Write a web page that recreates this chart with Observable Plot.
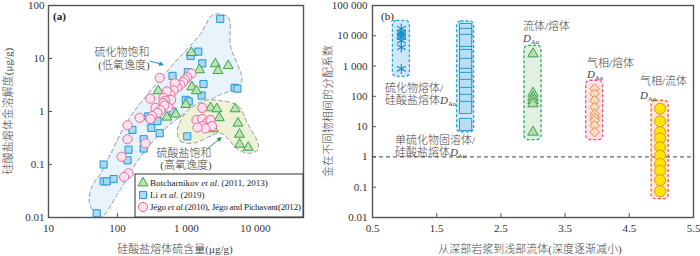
<!DOCTYPE html>
<html><head><meta charset="utf-8">
<script src="https://cdn.jsdelivr.net/npm/d3@7"></script>
<script src="https://cdn.jsdelivr.net/npm/@observablehq/plot@0.6"></script>
<style>
body{margin:0;background:#fff;}
#wrap{display:flex;width:700px;height:256px;overflow:hidden;}
</style></head><body><div id="wrap"></div>
<script>
const FONT = '"Liberation Serif","Noto Sans CJK SC",serif';

// ---------- Panel (a) data ----------
const xTicksA = [10, 100, 1000, 10000];
const xTickLabelsA = ["10", "100", "1 000", "10 000"];
const yTicksA = [0.01, 0.1, 1, 10, 100];
const yTickLabelsA = ["0.01", "0.1", "1", "10", "100"];

const liS  = [3100,1490,1150,1700,630,1050,1770,5000,5500,980,1080,1660,630,280,380,310,410,165,240,240,145,140,63,63,70,88,50,1030];
const liAu = [56,13.5,11.2,8.1,4.7,5.5,3.3,2.8,2.7,1.66,1.55,2.0,1.0,0.81,0.66,0.49,0.39,0.45,0.30,0.20,0.19,0.12,0.10,0.048,0.048,0.053,0.012,0.34];
const botS  = [1180,2630,4050,2870,1550,1200,1400,980,390,520,700,2240,2770,5100,3000,5600,5900,5900,7900,2460];
const botAu = [12.9,7.9,7.3,5.9,6.1,2.9,2.45,1.35,2.45,0.78,0.89,1.17,1.12,1.12,0.76,0.6,0.37,0.24,0.21,0.47];
const jegoS  = [410,1180,1030,950,900,820,740,680,650,585,520,465,600,490,300,355,545,465,480,420,380,320,300,210,140,140,255,115,145,125,1700,1400,1700,2000,2240,2350,1750,1880,1450];
const jegoAu = [4.3,5.2,4.4,4.0,3.6,3.2,2.9,3.4,2.5,2.1,2.4,1.8,1.65,1.6,1.75,1.17,1.2,1.45,1.3,1.05,0.94,0.82,0.72,0.76,0.55,0.30,0.25,0.14,0.068,0.058,1.17,0.69,0.72,0.62,0.69,0.53,0.53,0.48,0.5];

const sulfideHullS  = [2460,4060,4350,6270,2630,968,420,195,100,57,45,39,43,57,79,140,300,650,1600];
const sulfideHullAu = [67.5,59,17.5,3.47,1.88,0.94,0.39,0.115,0.0273,0.01,0.013,0.020,0.039,0.068,0.156,0.66,2.45,7.9,29];
const sulfateHullS  = [741,819,1262,3110,4060,5480,8470,11050,10700,7650,6060,4640,3330,2010,1440,1030,819];
const sulfateHullAu = [0.43,0.276,0.253,0.39,0.30,0.195,0.163,0.195,0.276,0.605,1.16,1.45,1.58,1.65,1.39,1.02,0.66];

// ---------- Panel (b) data ----------
const xTicksB = [0.5, 1.5, 2.5, 3.5, 4.5, 5.5];
const xTickLabelsB = ["0.5", "1.5", "2.5", "3.5", "4.5", "5.5"];
const yTicksB = [0.01, 0.1, 1, 10, 100, 1000, 10000, 100000];
const yTickLabelsB = ["0.01", "0.1", "1", "10", "100", "1 000", "10 000", "100 000"];
const groupX = [0.95, 1.95, 3.0, 3.96, 4.98];
const sulfideMeltD = [17000,13200,11700,10300,9000,6900,4170,810];
const mssD = [16100,11000,7000,2800,2230,1130,527,389,229,124,73,43,11.8];
const fluidMeltD = [2540,127,94,73,57,6.6];
const vaporMeltD = [178,122,73,44,26,20,16,11,6.6];
const vaporFluidD = [39,15,6.6,4.1,2.1,1.1,0.59,0.35,0.17,0.074];

// ---------- tables ----------
const zip = (a, b) => a.map((v, i) => ({x: v, y: b[i]}));
const li = zip(liS, liAu), bot = zip(botS, botAu), jego = zip(jegoS, jegoAu);
const sulfideHull = zip(sulfideHullS, sulfideHullAu), sulfateHull = zip(sulfateHullS, sulfateHullAu);

const H = 256, mT = 5, mB = 39;
const WA = 318, mLA = 48, mRA = 15;
const WB = 382, mLB = 54, mRB = 7;
const frameH = H - mT - mB;
const frameWA = WA - mLA - mRA, frameWB = WB - mLB - mRB;
const AX = "#555";
const TXT = "#444";

const plotA = Plot.plot({
  width: WA, height: H, marginTop: mT, marginBottom: mB, marginLeft: mLA, marginRight: mRA,
  style: {fontFamily: FONT, fontSize: "11px", color: "#333", background: "white"},
  x: {type: "log", domain: [10, 50000]},
  y: {type: "log", domain: [0.01, 100]},
  marks: [
    Plot.line(sulfideHull, {x: "x", y: "y", curve: "catmull-rom-closed", fill: "#e8f3fb", stroke: "#9a9a9a", strokeWidth: 1, strokeDasharray: "4,3"}),
    Plot.line(sulfateHull, {x: "x", y: "y", curve: "catmull-rom-closed", fill: "#eef3d8", stroke: "#9a9a9a", strokeWidth: 1, strokeDasharray: "4,3"}),
    Plot.dot(li, {x: "x", y: "y", symbol: "square", r: 4, fill: "#acd9f1", stroke: "#1e98d4", strokeWidth: 1}),
    Plot.dot(bot, {x: "x", y: "y", symbol: "triangle", r: 3.7, fill: "#bfe3b5", stroke: "#36a44a", strokeWidth: 1}),
    Plot.dot(jego, {x: "x", y: "y", symbol: "circle", r: 4.6, fill: "#fde2ec", stroke: "#ea6a9c", strokeWidth: 1}),
    Plot.tickX(xTicksA, {x: d => d, insetTop: frameH - 4, stroke: AX}),
    Plot.tickY(yTicksA, {y: d => d, insetRight: frameWA - 4, stroke: AX}),
    Plot.axisX({ticks: xTicksA, tickFormat: d => xTickLabelsA[xTicksA.indexOf(d)], tickSize: 0, tickPadding: 7, label: null, fontSize: 11}),
    Plot.axisY({ticks: yTicksA, tickFormat: d => yTickLabelsA[yTicksA.indexOf(d)], tickSize: 0, tickPadding: 4, label: null, fontSize: 11}),
    Plot.frame({stroke: AX, strokeWidth: 1.4})
  ]
});

const boxes = [
  {vals: sulfideMeltD, fill: "#cfe6f6", stroke: "#22a3df"},
  {vals: mssD, fill: "#d3e9f7", stroke: "#22a3df"},
  {vals: fluidMeltD, fill: "#e2efe4", stroke: "#2fa84c"},
  {vals: vaporMeltD, fill: "#fde3e8", stroke: "#e8508c"},
  {vals: vaporFluidD, fill: "#fde7d2", stroke: "#f05a3a"}
].map((b, i) => ({...b, x: groupX[i], lo: d3.min(b.vals), hi: d3.max(b.vals)}));
const col = (vals, i) => vals.map(v => ({x: groupX[i], y: v}));

const plotB = Plot.plot({
  width: WB, height: H, marginTop: mT, marginBottom: mB, marginLeft: mLB, marginRight: mRB,
  style: {fontFamily: FONT, fontSize: "11px", color: "#333", background: "white"},
  x: {domain: [0.5, 5.5]},
  y: {type: "log", domain: [0.01, 100000]},
  marks: [
    ...boxes.map(b => Plot.rect([b], {x1: "x", x2: "x", y1: "lo", y2: "hi", insetLeft: -8.5, insetRight: -8.5, insetTop: -8, insetBottom: -8, rx: 4, fill: b.fill, stroke: b.stroke, strokeWidth: 1.3, strokeDasharray: "3,2"})),
    Plot.ruleY([1], {stroke: "#444", strokeDasharray: "4,3", strokeWidth: 1}),
    Plot.dot(col(sulfideMeltD, 0), {x: "x", y: "y", symbol: "asterisk", r: 4.8, stroke: "#1b8fd2", strokeWidth: 1.2}),
    Plot.dot(col(mssD, 1), {x: "x", y: "y", symbol: "square", r: 6.9, fill: "#b8def3", stroke: "#2399d6", strokeWidth: 1}),
    Plot.dot(col(fluidMeltD, 2), {x: "x", y: "y", symbol: "triangle", r: 3.9, fill: "#b9dcb1", stroke: "#3aa54a", strokeWidth: 1}),
    Plot.dot(col(vaporMeltD, 3), {x: "x", y: "y", symbol: "diamond2", r: 4.4, fill: "#fddcc4", stroke: "#f08a40", strokeWidth: 1}),
    Plot.dot(col(vaporFluidD, 4), {x: "x", y: "y", symbol: "circle", r: 5.5, fill: "#ffe600", stroke: "#e8902a", strokeWidth: 1}),
    Plot.tickX(xTicksB.slice(1, -1), {x: d => d, insetTop: frameH - 4, stroke: AX}),
    Plot.tickY(yTicksB, {y: d => d, insetRight: frameWB - 4, stroke: AX}),
    Plot.axisX({ticks: xTicksB, tickFormat: d => xTickLabelsB[xTicksB.indexOf(d)], tickSize: 0, tickPadding: 7, label: null, fontSize: 11}),
    Plot.axisY({ticks: yTicksB, tickFormat: d => yTickLabelsB[yTicksB.indexOf(d)], tickSize: 0, tickPadding: 5, label: null, fontSize: 11}),
    Plot.frame({stroke: AX, strokeWidth: 1.4})
  ]
});

const wrap = document.getElementById("wrap");
wrap.appendChild(plotA);
wrap.appendChild(plotB);

// ---------- annotations ----------
function addText(svg, x, y, parts, opts = {}) {
  const t = d3.select(svg).append("text").attr("x", x).attr("y", y)
    .attr("font-family", FONT).attr("font-size", opts.size || 11).attr("fill", opts.fill || TXT)
    .attr("text-anchor", opts.anchor || "start").attr("dominant-baseline", "central");
  if (opts.weight) t.attr("font-weight", opts.weight);
  if (opts.transform) t.attr("transform", opts.transform);
  if (opts.textLength) t.attr("textLength", opts.textLength).attr("lengthAdjust", "spacing");
  for (const p of parts) {
    const s = typeof p === "string" ? {t: p} : p;
    const ts = t.append("tspan").text(s.t);
    if (s.italic) ts.attr("font-style", "italic");
    if (s.size) ts.attr("font-size", s.size);
    if (s.dy) ts.attr("dy", s.dy);
  }
  return t;
}
function arrow(svg, x1, y1, x2, y2, color) {
  const g = d3.select(svg).append("g");
  const a = Math.atan2(y2 - y1, x2 - x1), L = 5, Wd = 2.4;
  const bx = x2 - L * Math.cos(a), by = y2 - L * Math.sin(a);
  g.append("line").attr("x1", x1).attr("y1", y1).attr("x2", bx).attr("y2", by).attr("stroke", color).attr("stroke-width", 1);
  g.append("polygon").attr("fill", color).attr("points",
    `${x2},${y2} ${bx - Wd * Math.sin(a)},${by + Wd * Math.cos(a)} ${bx + Wd * Math.sin(a)},${by - Wd * Math.cos(a)}`);
}
const DAu = () => [{t: "D", italic: true}, {t: "Au", size: 6.5, dy: 3}];
const CJK = {weight: 300};

// Panel (a)
addText(plotA, 8, 111, ["硅酸盐熔体金溶解度(μg/g)"], {anchor: "middle", transform: "rotate(-90 8 111)", ...CJK});
addText(plotA, 175, 249, ["硅酸盐熔体硫含量(μg/g)"], {anchor: "middle", ...CJK});
addText(plotA, 53, 16, ["(a)"], {size: 11, fill: "#222", weight: "bold"});
addText(plotA, 122, 52, ["硫化物饱和"], {anchor: "middle", ...CJK});
addText(plotA, 124, 65, ["(低氧逸度)"], {anchor: "middle", ...CJK});
arrow(plotA, 150, 61, 164, 65, "#1e98d4");
addText(plotA, 184, 153, ["硫酸盐饱和"], {anchor: "middle", ...CJK});
addText(plotA, 186, 165, ["(高氧逸度)"], {anchor: "middle", ...CJK});
arrow(plotA, 207, 149, 222, 137, "#2a9a48");

// legend
const lg = d3.select(plotA).append("g");
lg.append("rect").attr("x", 135).attr("y", 174).attr("width", 168).attr("height", 43).attr("fill", "white").attr("stroke", "#333").attr("stroke-width", 1);
lg.append("path").attr("transform", "translate(143,183)").attr("d", d3.symbol(d3.symbolTriangle, Math.PI * 3.7 * 3.7)()).attr("fill", "#bfe3b5").attr("stroke", "#36a44a");
lg.append("path").attr("transform", "translate(143,195)").attr("d", d3.symbol(d3.symbolSquare, Math.PI * 16)()).attr("fill", "#acd9f1").attr("stroke", "#1e98d4");
lg.append("path").attr("transform", "translate(143,207)").attr("d", d3.symbol(d3.symbolCircle, Math.PI * 4.6 * 4.6)()).attr("fill", "#fde2ec").attr("stroke", "#ea6a9c");
addText(plotA, 150, 183, ["Botcharnikov ", {t: "et", italic: true}, " ", {t: "al", italic: true}, ". (2011, 2013)"], {size: 9, fill: "#222"});
addText(plotA, 150, 195, ["Li ", {t: "et", italic: true}, " ", {t: "al", italic: true}, ". (2019)"], {size: 9, fill: "#222"});
addText(plotA, 150, 207, ["Jégo ", {t: "et", italic: true}, " ", {t: "al", italic: true}, ".(2010), Jégo and Pichavant(2012)"], {size: 9, fill: "#222", textLength: 151});

// Panel (b)  (svg starts at x = 318)
const ox = WA;
addText(plotB, 328 - ox, 111, ["金在不同物相间的分配系数"], {anchor: "middle", transform: `rotate(-90 ${328 - ox} 111)`, ...CJK});
addText(plotB, 530 - ox, 249, ["从深部岩浆到浅部流体(深度逐渐减小)"], {anchor: "middle", ...CJK});
addText(plotB, 381 - ox, 16, ["(b)"], {fill: "#222"});
addText(plotB, 385 - ox, 88, ["硫化物熔体/"], CJK);
addText(plotB, 385 - ox, 100, ["硅酸盐熔体", ...DAu()], CJK);
addText(plotB, 395 - ox, 140, ["单硫化物固溶体/"], CJK);
addText(plotB, 395 - ox, 152, ["硅酸盐熔体", ...DAu()], CJK);
addText(plotB, 523 - ox, 26, ["流体/熔体"], CJK);
addText(plotB, 523 - ox, 38, [...DAu()]);
addText(plotB, 587 - ox, 63, ["气相/熔体"], CJK);
addText(plotB, 587 - ox, 74, [...DAu()]);
addText(plotB, 640 - ox, 81, ["气相/流体"], CJK);
addText(plotB, 640 - ox, 95, [...DAu()]);
</script></body></html>
